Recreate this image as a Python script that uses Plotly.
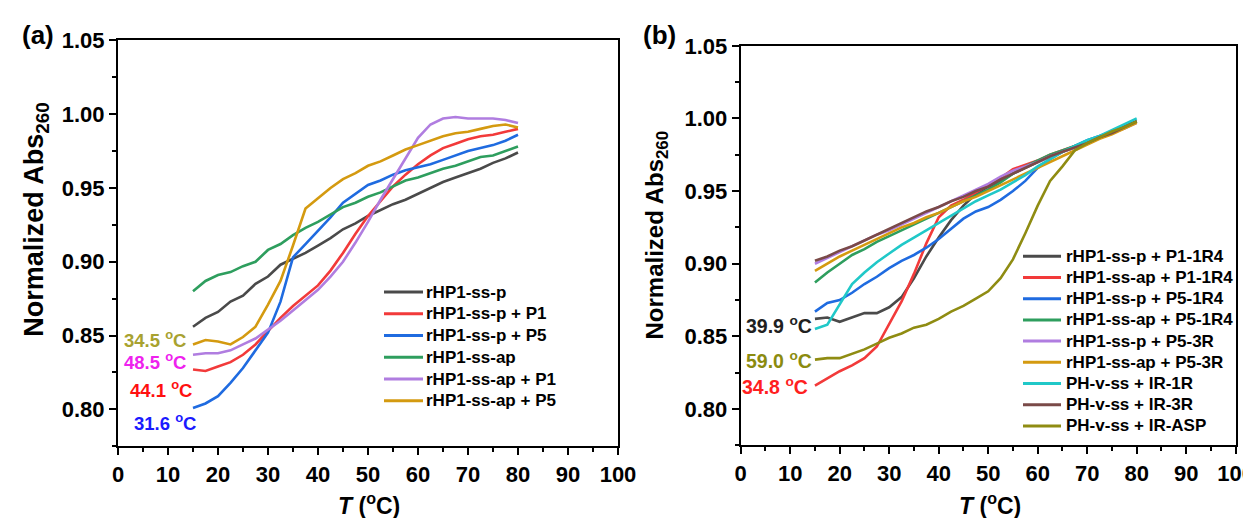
import plotly.graph_objects as go

W, H = 1251, 518
T = [15, 17.5, 20, 22.5, 25, 27.5, 30, 32.5, 35, 37.5, 40, 42.5, 45, 47.5, 50,
     52.5, 55, 57.5, 60, 62.5, 65, 67.5, 70, 72.5, 75, 77.5, 80]

# ---- panel (a) ----
names_a = ["rHP1-ss-p", "rHP1-ss-p + P1", "rHP1-ss-p + P5", "rHP1-ss-ap",
           "rHP1-ss-ap + P1", "rHP1-ss-ap + P5"]
colors_a = ["#4a4a4a", "#f23a3a", "#1f6be0", "#2e9e5e", "#b07de0", "#d49a10"]
a_p = [.856, .862, .866, .873, .877, .885, .890, .898, .902, .906, .911, .916, .922, .926,
       .931, .935, .939, .942, .946, .950, .954, .957, .960, .963, .967, .970, .974]
a_p_P1 = [.827, .826, .829, .832, .837, .844, .853, .862, .870, .877, .884, .894, .906, .919,
          .931, .941, .951, .959, .966, .972, .977, .980, .983, .985, .986, .988, .990]
a_p_P5 = [.801, .804, .809, .818, .828, .840, .852, .873, .903, .912, .921, .930, .940, .946,
          .952, .955, .959, .962, .964, .966, .969, .972, .975, .977, .979, .982, .986]
a_ap = [.880, .887, .891, .893, .897, .900, .908, .912, .918, .923, .927, .932, .937, .940,
        .944, .947, .951, .955, .957, .960, .963, .965, .968, .971, .972, .975, .978]
a_ap_P1 = [.837, .838, .838, .840, .844, .848, .854, .860, .867, .874, .881, .890, .900, .913,
           .927, .942, .956, .970, .984, .993, .997, .998, .997, .997, .997, .996, .994]
a_ap_P5 = [.844, .847, .846, .844, .849, .856, .871, .887, .911, .936, .943, .950, .956, .960,
           .965, .968, .972, .976, .979, .982, .985, .987, .988, .990, .992, .993, .991]
series_a = [a_p, a_p_P1, a_p_P5, a_ap, a_ap_P1, a_ap_P5]

# ---- panel (b) ----
names_b = ["rHP1-ss-p + P1-1R4", "rHP1-ss-ap + P1-1R4", "rHP1-ss-p + P5-1R4",
           "rHP1-ss-ap + P5-1R4", "rHP1-ss-p + P5-3R", "rHP1-ss-ap + P5-3R",
           "PH-v-ss + IR-1R", "PH-v-ss + IR-3R", "PH-v-ss + IR-ASP"]
colors_b = ["#4a4a4a", "#f23a3a", "#1f6be0", "#2e9e5e", "#b07de0", "#d49a10",
            "#20c8c8", "#7a4a48", "#8f8c12"]
b1 = [.862, .863, .860, .863, .866, .866, .870, .877, .890, .905, .918, .930, .940, .948,
      .953, .957, .962, .966, .970, .974, .977, .980, .983, .987, .990, .994, .998]
b2 = [.816, .821, .826, .830, .835, .843, .858, .874, .893, .914, .932, .940, .944, .949,
      .954, .959, .965, .968, .971, .975, .978, .981, .984, .987, .990, .994, .998]
b3 = [.867, .873, .875, .880, .886, .891, .897, .902, .906, .911, .917, .924, .931, .936,
      .939, .944, .950, .957, .966, .972, .977, .981, .985, .988, .991, .995, .998]
b4 = [.887, .894, .900, .906, .910, .915, .919, .923, .927, .931, .935, .939, .943, .947,
      .951, .956, .962, .967, .971, .975, .978, .981, .984, .987, .990, .994, .998]
b5 = [.900, .904, .908, .912, .916, .920, .923, .927, .931, .935, .939, .943, .947, .951,
      .955, .960, .964, .967, .970, .974, .977, .980, .983, .987, .990, .993, .997]
b6 = [.895, .900, .905, .909, .913, .917, .921, .925, .928, .932, .935, .939, .943, .946,
      .950, .954, .958, .962, .966, .970, .974, .978, .982, .986, .989, .993, .997]
b7 = [.855, .858, .872, .886, .894, .901, .907, .913, .918, .923, .928, .933, .938, .943,
      .947, .951, .956, .961, .967, .972, .977, .981, .985, .988, .992, .996, 1.000]
b8 = [.902, .905, .909, .912, .916, .920, .924, .928, .932, .936, .939, .943, .946, .950,
      .953, .958, .962, .966, .970, .974, .977, .980, .983, .987, .990, .994, .998]
b9 = [.834, .835, .835, .838, .841, .845, .849, .852, .856, .858, .862, .867, .871, .876,
      .881, .890, .903, .921, .940, .957, .967, .978, .983, .987, .991, .994, .998]
series_b = [b1, b2, b3, b4, b5, b6, b7, b8, b9]

x_ticks = list(range(0, 101, 10))
y_ticks = [0.80, 0.85, 0.90, 0.95, 1.00, 1.05]

FONT = "Liberation Sans, Arial, sans-serif"

fig = go.Figure()
for n, c, s in zip(names_a, colors_a, series_a):
    fig.add_trace(go.Scatter(x=T, y=s, mode="lines", name=n, line=dict(color=c, width=2.6),
                             xaxis="x", yaxis="y", showlegend=False))
for n, c, s in zip(names_b, colors_b, series_b):
    fig.add_trace(go.Scatter(x=T, y=s, mode="lines", name=n, line=dict(color=c, width=2.6),
                             xaxis="x2", yaxis="y2", showlegend=False))

def px_x(p):
    return p / W

def px_y(p):
    return 1 - p / H

ax_common = dict(showline=True, linecolor="black", linewidth=2, mirror=True,
                 ticks="outside", ticklen=7, tickwidth=2, tickcolor="black",
                 showgrid=False, zeroline=False, automargin=False,
                 tickfont=dict(family=FONT, size=22, color="black", weight="bold"),
                 minor=dict(ticks="outside", ticklen=4, tickwidth=1.5, tickcolor="black"))

xa = dict(ax_common, range=[0, 100], tickvals=x_ticks, minor=dict(ax_common["minor"], dtick=5))
ya = dict(ax_common, range=[0.775, 1.05], tickvals=y_ticks, tickformat=".2f",
          minor=dict(ax_common["minor"], dtick=0.025, tick0=0.775))

fig.update_layout(
    width=W, height=H, margin=dict(l=0, r=0, t=0, b=0),
    paper_bgcolor="white", plot_bgcolor="white",
    font=dict(family=FONT, color="black"),
    xaxis=dict(xa, domain=[px_x(110), px_x(610)], anchor="y"),
    yaxis=dict(ya, domain=[px_y(438.3), px_y(32.3)], anchor="x"),
    xaxis2=dict(xa, domain=[px_x(732.7), px_x(1227.7)], anchor="y2"),
    yaxis2=dict(ya, domain=[px_y(437.3), px_y(37.8)], anchor="x2"),
    showlegend=False,
)

def ann(text, x, y, size, color="black", angle=0, xanchor="center", yanchor="middle",
        xref="paper", yref="paper"):
    fig.add_annotation(text=text, x=x, y=y, xref=xref, yref=yref, showarrow=False,
                       textangle=angle, xanchor=xanchor, yanchor=yanchor,
                       font=dict(family=FONT, size=size, color=color, weight="bold"))

# panel labels
ann("(a)", px_x(29.7), px_y(27.5), 26)
ann("(b)", px_x(651.7), px_y(26.7), 26)
# axis titles
ann("Normalized Abs<sub>260</sub>", px_x(28), px_y(211.7), 27, angle=-90)
ann("Normalized Abs<sub>260</sub>", px_x(648), px_y(227.5), 24, angle=-90)
ann("<i>T</i> (<sup>o</sup>C)", px_x(361), px_y(513), 23, yanchor="bottom")
ann("<i>T</i> (<sup>o</sup>C)", px_x(982), px_y(513), 23, yanchor="bottom")

# Tm labels panel (a)
ann("34.5 <sup>o</sup>C", 14.0, 0.8474, 18.5, "#a8a230", xanchor="right", xref="x", yref="y")
ann("48.5 <sup>o</sup>C", 14.0, 0.8326, 18.5, "#ee22ee", xanchor="right", xref="x", yref="y")
ann("44.1 <sup>o</sup>C", 15.2, 0.8141, 18.5, "#ff1010", xanchor="right", xref="x", yref="y")
ann("31.6 <sup>o</sup>C", 15.9, 0.7917, 18.5, "#1a1aff", xanchor="right", xref="x", yref="y")
# Tm labels panel (b)
ann("39.9 <sup>o</sup>C", 14.9, 0.858, 19.5, "#202020", xanchor="right", xref="x2", yref="y2")
ann("59.0 <sup>o</sup>C", 14.9, 0.834, 19.5, "#8b8b10", xanchor="right", xref="x2", yref="y2")
ann("34.8 <sup>o</sup>C", 14.0, 0.816, 19.5, "#ff2020", xanchor="right", xref="x2", yref="y2")

# legends (line sample + label), positioned in pixels
def legend(names, colors, x_line0, x_line1, x_text, y0, dy, size):
    for i, (n, c) in enumerate(zip(names, colors)):
        yy = px_y(y0 + i * dy)
        fig.add_shape(type="line", xref="paper", yref="paper", x0=px_x(x_line0), x1=px_x(x_line1),
                      y0=yy, y1=yy, line=dict(color=c, width=3))
        fig.add_annotation(text=n, x=px_x(x_text), y=yy, xref="paper", yref="paper",
                           showarrow=False, xanchor="left", yanchor="middle",
                           font=dict(family=FONT, size=size, color="black", weight="bold"))

legend(names_a, colors_a, 376, 415, 416, 284, 21.75, 17)
legend(names_b, colors_b, 1015, 1053, 1055.5, 248.3, 21.2, 17)

fig.write_html("out.html")
